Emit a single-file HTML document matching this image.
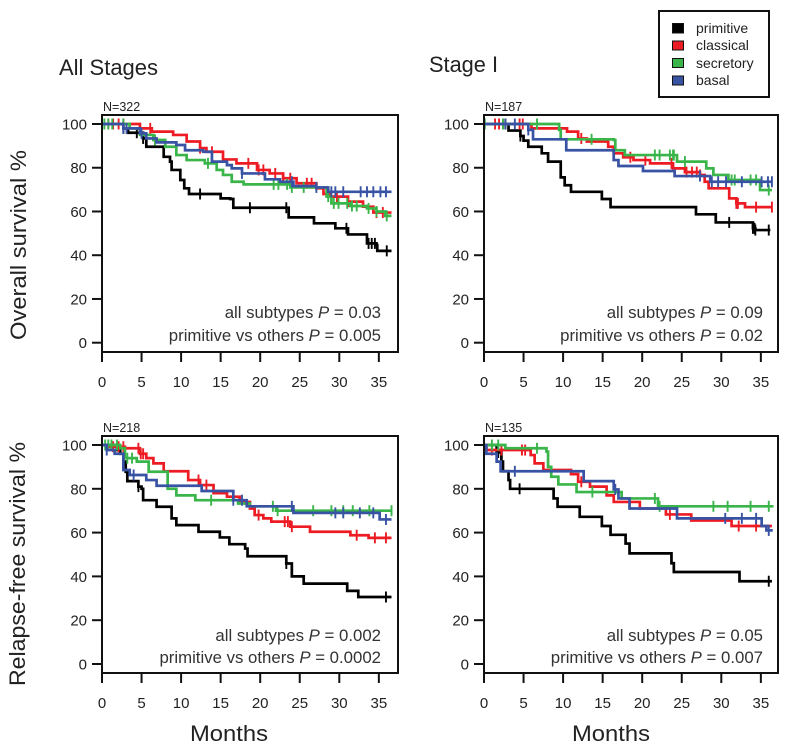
<!DOCTYPE html>
<html>
<head>
<meta charset="utf-8">
<style>
html,body{margin:0;padding:0;background:#fff;}
svg{display:block;font-family:"Liberation Sans",sans-serif;}
</style>
</head>
<body>
<svg id="chart" width="788" height="750" viewBox="0 0 788 750" xmlns="http://www.w3.org/2000/svg">
  <rect x="659" y="11" width="110" height="86" fill="#fff" stroke="#111" stroke-width="2"/>
  <rect x="672.5" y="23.5" width="11" height="9.5" fill="#000" stroke="#111"/>
  <rect x="672.5" y="41" width="11" height="9" fill="#ed1c24" stroke="#111"/>
  <rect x="672.5" y="58.5" width="11" height="9" fill="#39b54a" stroke="#111"/>
  <rect x="672.5" y="76" width="11" height="9" fill="#3953a4" stroke="#111"/>
  <text x="696" y="33" font-size="14" fill="#222">primitive</text>
  <text x="696" y="50" font-size="14" fill="#222">classical</text>
  <text x="696" y="68" font-size="14" fill="#222">secretory</text>
  <text x="696" y="85" font-size="14" fill="#222">basal</text>
  <text x="59" y="75" font-size="22.5" fill="#222" textLength="99" lengthAdjust="spacingAndGlyphs">All Stages</text>
  <text x="429" y="72" font-size="22.5" fill="#222" textLength="69" lengthAdjust="spacingAndGlyphs">Stage I</text>
  <text transform="translate(26,340) rotate(-90)" font-size="22" fill="#222" textLength="190" lengthAdjust="spacingAndGlyphs">Overall survival %</text>
  <text transform="translate(25,686) rotate(-90)" font-size="22" fill="#222" textLength="244" lengthAdjust="spacingAndGlyphs">Relapse-free survival %</text>
  <text x="190" y="741" font-size="22" fill="#222" textLength="78" lengthAdjust="spacingAndGlyphs">Months</text>
  <text x="572" y="741" font-size="22" fill="#222" textLength="78" lengthAdjust="spacingAndGlyphs">Months</text>
</svg>
<script>
const xTickLabels = [0, 5, 10, 15, 20, 25, 30, 35];
const yTickLabels = [0, 20, 40, 60, 80, 100];
const seriesNames = ['primitive', 'classical', 'secretory', 'basal'];
const seriesColors = ['#000000', '#ed1c24', '#39b54a', '#3953a4'];

const tlBlackMonths = [0, 2.7, 3.3, 5.2, 5.6, 7.8, 8.6, 8.8, 9.9, 10.4, 11, 15, 16.2, 16.6, 23.6, 26.8, 29.5, 31.1, 33.5, 34.7, 34.8, 36.6];
const tlBlackSurv = [100, 98, 96, 93.4, 89.6, 85, 82.8, 79, 74.4, 70.6, 68, 66, 65.7, 61.7, 57.3, 54.6, 52.3, 49.5, 45.4, 44.7, 42, 42];
const tlBlackCensor = [2.7, 4.4, 5.2, 12.4, 18.7, 23.3, 30.9, 33.7, 34.1, 34.5, 36];
const tlRedMonths = [0, 4.8, 6.3, 9, 10.7, 12.4, 13.2, 15.3, 17, 19.6, 21.2, 22.9, 24.6, 27.1, 28, 28.8, 31.1, 33, 34.3, 36.6];
const tlRedSurv = [100, 98, 96.5, 95, 92, 89, 87.3, 83.8, 82, 79, 77.4, 75.2, 72.9, 70.6, 68, 66.8, 64.5, 62.2, 59.5, 59.5];
const tlRedCensor = [0.8, 1.4, 2.1, 2.7, 4.8, 6.1, 12.4, 13.9, 18.5, 19.8, 20.4, 21.9, 22.9, 23.8, 25.9, 26.5, 29.7, 31.1, 34.7, 35.5];
const tlGreenMonths = [0, 3.5, 4.8, 6.5, 8, 9.4, 10.7, 13, 14.5, 15.3, 16.4, 17.9, 23.8, 28, 28.4, 29, 31.4, 33.5, 34.7, 35.8, 36.6];
const tlGreenSurv = [100, 98, 95, 92.7, 89.6, 85.8, 83.5, 82, 79, 76.7, 73.6, 72.4, 71, 71, 66.8, 63.7, 62.5, 61.4, 60, 58, 58];
const tlGreenCensor = [0.3, 0.8, 1.3, 2.7, 6.7, 13.4, 21.7, 22.3, 23.4, 24, 25.5, 28.6, 29.3, 29.9, 31, 31.6, 32.2, 33.7, 34.7, 36];
const tlBlueMonths = [0, 2.7, 4.8, 5.6, 6.9, 9.4, 10.5, 12.8, 13.9, 15.8, 16.4, 17.7, 20.6, 22.5, 24.2, 27.1, 28.6, 36.6];
const tlBlueSurv = [100, 98, 95.7, 93.4, 91.6, 90.4, 88, 87.3, 82.8, 81.2, 79.7, 77.4, 74.7, 73.6, 71.6, 71, 69, 69];
const tlBlueCensor = [2.7, 3.1, 5, 17.7, 24, 27.1, 29, 29.5, 30.5, 32.7, 33.5, 34.3, 35.2, 35.9];

const trBlackMonths = [0, 3.1, 4.6, 5, 5.6, 7.3, 8.1, 9.7, 10.2, 11, 14.9, 16, 26.8, 29.3, 34, 34.3, 36.2];
const trBlackSurv = [100, 97, 94.5, 92.4, 89.6, 86.6, 82.8, 75.6, 72, 69, 65.7, 62, 58.7, 55, 52.3, 51.5, 51.5];
const trBlackCensor = [2.7, 4.6, 31, 34, 34.2, 34.3, 36];
const trRedMonths = [0, 6, 10.5, 11.9, 13, 15.7, 16.4, 17.6, 18.9, 21, 23.9, 25.4, 27.3, 27.9, 28.4, 31, 31.9, 33, 36.4];
const trRedSurv = [100, 98, 96.5, 93.4, 92, 89.6, 86.6, 84.8, 83.5, 82, 79.7, 78, 76.7, 73.6, 70.6, 66, 63.7, 62, 62];
const trRedCensor = [1.4, 1.9, 2.4, 4.5, 4.9, 12.3, 18.5, 20.4, 23.7, 25.6, 26.3, 26.9, 27.3, 31.9, 32.1, 34.4, 36.4];
const trGreenMonths = [0, 9.5, 9.7, 16.4, 16.6, 17.8, 24.4, 28.1, 29, 30.9, 34.9, 36.4];
const trGreenSurv = [100, 97.3, 93, 92.7, 88, 85.8, 82.8, 79.7, 76.7, 74.4, 69.8, 69.8];
const trGreenCensor = [0.1, 2.4, 6.7, 13.6, 21.6, 22.2, 23.5, 23.9, 24, 25.4, 31.3, 31.7, 33.7, 34.4, 36];
const trBlueMonths = [0, 5.6, 6.2, 10.4, 16.4, 17, 20.1, 24.1, 28.6, 36.4];
const trBlueSurv = [100, 97.3, 93, 88, 83.5, 80.8, 78.5, 76.2, 73.6, 73.6];
const trBlueCensor = [2.7, 3.9, 5.6, 27.3, 28.8, 29.6, 30.6, 32.6, 35.1, 35.9, 36.4];

const blBlackMonths = [0, 1.9, 2.3, 2.7, 3, 3.2, 4.6, 5, 5.2, 6.9, 8.8, 9.4, 12.2, 14.9, 16.1, 18.1, 18.4, 23.3, 24, 25.5, 31, 32.4, 36.6];
const blBlackSurv = [100, 97.7, 96, 92.4, 87.8, 83.5, 81, 80, 74.8, 71.8, 66.5, 63.4, 60.4, 57.8, 54.7, 52.7, 49.2, 45.9, 40, 36.7, 33.4, 30.6, 30.6];
const blBlackCensor = [4.6, 23.3, 35.9];
const blRedMonths = [0, 1, 2.9, 4.8, 5.6, 6.5, 7.8, 10.9, 12.4, 14.1, 15.8, 17.4, 18.7, 19.3, 20.4, 21.4, 23.8, 26.3, 31.4, 33.7, 36.6];
const blRedSurv = [100, 99.2, 98.5, 96, 94, 91.6, 88, 84, 81.7, 78, 76.4, 74, 71, 68, 66.5, 65, 62.7, 60.4, 58.8, 57.6, 57.6];
const blRedCensor = [1.4, 2.1, 2.7, 4.6, 4.9, 5.2, 12.2, 13.2, 19.8, 23.1, 23.5, 24, 32.2, 34.5, 35.9];
const blGreenMonths = [0, 2.3, 2.9, 4.4, 5.9, 8.3, 9.4, 11.8, 17.2, 18.7, 22, 36.6];
const blGreenSurv = [100, 98.5, 94, 92.4, 87.8, 80, 77, 74.8, 73.3, 72, 70, 70];
const blGreenCensor = [0.4, 0.8, 1.2, 1.9, 3.2, 3.8, 13.8, 21.6, 22.2, 26.7, 29, 30.5, 31.7, 33.8, 36.6];
const blBlueMonths = [0, 0.6, 1.6, 2.7, 3.5, 5.6, 6.9, 12.6, 16.6, 18.3, 24.2, 35.1, 36.6];
const blBlueSurv = [100, 97.7, 96, 88.6, 86.3, 84, 81.4, 79, 74.8, 72, 69, 66, 66];
const blBlueCensor = [0.6, 4, 16.6, 17.7, 24, 29.5, 30.5, 32.6, 34.3, 35.9];

const brBlackMonths = [0, 1.6, 2.2, 2.4, 3.1, 3.3, 8.8, 9.3, 12.1, 14.9, 16, 17.9, 18.4, 23.7, 24, 32.3, 36.4];
const brBlackSurv = [100, 96.6, 92.4, 88, 84, 80, 75.6, 71.8, 67.2, 63, 59, 55, 50.5, 46, 42, 37.8, 37.8];
const brBlackCensor = [1.8, 4.5, 36];
const brRedMonths = [0, 0.3, 5.9, 6.4, 7.5, 11, 11.9, 13.4, 15.5, 16.4, 19.7, 23, 26.2, 31.3, 36.4];
const brRedSurv = [100, 97.7, 95.4, 91.6, 88.6, 86.7, 83.2, 81, 77, 74, 71, 68.3, 65.5, 63, 63];
const brRedCensor = [1, 2.2, 4.8, 5.2, 12.3, 23.5, 32.2, 34.4];
const brGreenMonths = [0, 2.7, 7.9, 8.1, 8.5, 9.4, 11.7, 17.4, 22, 36.6];
const brGreenSurv = [100, 98.5, 97, 90, 85.5, 82, 78.5, 75.6, 72, 72];
const brGreenCensor = [1, 1.8, 6.7, 13.7, 21.6, 22.2, 29, 30.8, 33.7, 36];
const brBlueMonths = [0, 0.3, 1.6, 2.1, 12.6, 16.4, 17, 18.4, 24.4, 35.1, 35.7, 36.5];
const brBlueSurv = [100, 96, 92.4, 88, 83.5, 79.7, 75.6, 71, 66.5, 63, 61, 61];
const brBlueCensor = [3.9, 16.6, 30.5, 32.6, 34.4, 36];

const panelKeys = ['all-stages-overall', 'stage-i-overall', 'all-stages-relapse', 'stage-i-relapse'];
const panelCounts = ['N=322', 'N=187', 'N=218', 'N=135'];
const panelLine1 = ['all subtypes P = 0.03', 'all subtypes P = 0.09', 'all subtypes P = 0.002', 'all subtypes P = 0.05'];
const panelLine2 = ['primitive vs others P = 0.005', 'primitive vs others P = 0.02', 'primitive vs others P = 0.0002', 'primitive vs others P = 0.007'];

const panelMonths = [
  [tlBlackMonths, tlRedMonths, tlGreenMonths, tlBlueMonths],
  [trBlackMonths, trRedMonths, trGreenMonths, trBlueMonths],
  [blBlackMonths, blRedMonths, blGreenMonths, blBlueMonths],
  [brBlackMonths, brRedMonths, brGreenMonths, brBlueMonths]
];
const panelSurv = [
  [tlBlackSurv, tlRedSurv, tlGreenSurv, tlBlueSurv],
  [trBlackSurv, trRedSurv, trGreenSurv, trBlueSurv],
  [blBlackSurv, blRedSurv, blGreenSurv, blBlueSurv],
  [brBlackSurv, brRedSurv, brGreenSurv, brBlueSurv]
];
const panelCensor = [
  [tlBlackCensor, tlRedCensor, tlGreenCensor, tlBlueCensor],
  [trBlackCensor, trRedCensor, trGreenCensor, trBlueCensor],
  [blBlackCensor, blRedCensor, blGreenCensor, blBlueCensor],
  [brBlackCensor, brRedCensor, brGreenCensor, brBlueCensor]
];

const svg = document.getElementById('chart');
const NS = 'http://www.w3.org/2000/svg';

function make(tag, parent, props) {
  const el = document.createElementNS(NS, tag);
  for (const k in props) el.setAttribute(k, props[k]);
  parent.appendChild(el);
  return el;
}

function survivalAt(months, surv, m) {
  let v = surv[0];
  for (let i = 0; i < months.length; i++) {
    if (months[i] <= m) v = surv[i];
  }
  return v;
}

function drawPanel(index) {
  const left = index % 2 === 0 ? 102 : 484;
  const right = index % 2 === 0 ? 398 : 778;
  const upper = index < 2;
  const boxTop = upper ? 115 : 436;
  const boxBottom = upper ? 352 : 673;
  const y100 = upper ? 124 : 445;
  const y0 = upper ? 342.7 : 664;
  const xScale = m => left + m * 7.91;
  const yScale = p => y0 - (y0 - y100) * p / 100;

  const group = make('g', svg, {});
  
  

  xTickLabels.forEach(t => {
    const tick = make('line', group, {x1: xScale(t), x2: xScale(t), y1: boxBottom, y2: boxBottom + 10, stroke: '#111', 'stroke-width': 2});
    
    
    const label = make('text', group, {x: xScale(t), y: boxBottom + 35, 'text-anchor': 'middle', 'font-size': 15, fill: '#222'});
    
    
    label.textContent = t;
  });

  yTickLabels.forEach(t => {
    const tick = make('line', group, {x1: left - 10, x2: left, y1: yScale(t), y2: yScale(t), stroke: '#111', 'stroke-width': 2});
    
    
    const label = make('text', group, {x: left - 15, y: yScale(t) + 5.5, 'text-anchor': 'end', 'font-size': 15, fill: '#222'});
    
    
    label.textContent = t;
  });

  seriesNames.forEach((name, s) => {
    const months = panelMonths[index][s];
    const surv = panelSurv[index][s];
    let d = 'M' + xScale(months[0]) + ' ' + yScale(surv[0]);
    for (let i = 1; i < months.length; i++) {
      d += 'H' + xScale(months[i]) + 'V' + yScale(surv[i]);
    }
    const curve = make('path', group, {d: d, fill: 'none', stroke: seriesColors[s], 'stroke-width': 2.7});
    
    
    panelCensor[index][s].forEach(m => {
      const yc = yScale(survivalAt(months, surv, m));
      const mark = make('line', group, {x1: xScale(m), x2: xScale(m), y1: yc - 5.5, y2: yc + 5.5, stroke: seriesColors[s], 'stroke-width': 1.9});
      
      
    });
  });

  const box = make('rect', group, {x: left, y: boxTop, width: right - left, height: boxBottom - boxTop, fill: 'none', stroke: '#111', 'stroke-width': 2});
  
  

  const count = make('text', group, {x: left + 1, y: boxTop - 4, 'font-size': 12.5, fill: '#222'});
  
  
  count.textContent = panelCounts[index];

  const textRight = left + 279;
  const line1Y = upper ? 318 : 641;
  const line2Y = upper ? 341 : 663;
  [[panelLine1[index], line1Y, 'p-value-all-subtypes'], [panelLine2[index], line2Y, 'p-value-primitive-vs-others']].forEach(item => {
    const parts = item[0].split(' P ');
    const t = make('text', group, {x: textRight, y: item[1], 'text-anchor': 'end', 'font-size': 16.8, fill: '#333'});
    
    
    const a = make('tspan', t, {});
    a.textContent = parts[0] + ' ';
    const b = make('tspan', t, {'font-style': 'italic'});
    b.textContent = 'P';
    const c = make('tspan', t, {});
    c.textContent = ' ' + parts[1];
  });
}

panelKeys.forEach((k, i) => drawPanel(i));
</script>
</body>
</html>
